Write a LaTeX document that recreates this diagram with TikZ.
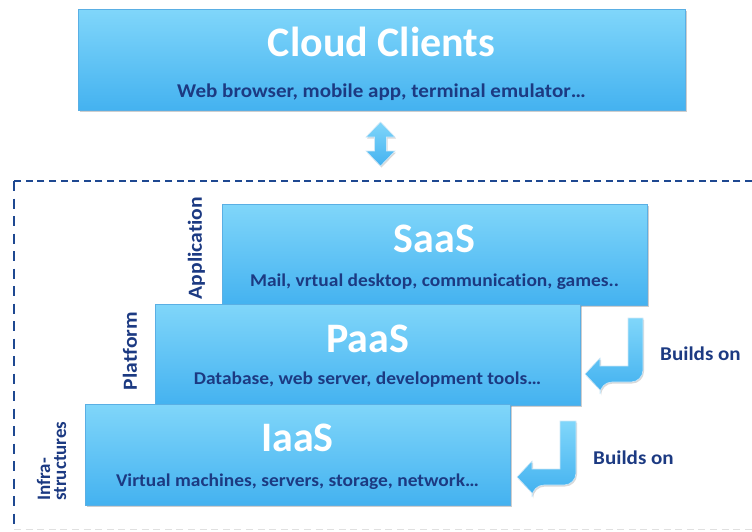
\documentclass[tikz,border=0pt]{standalone}
\usepackage{fontspec}
\setmainfont{Carlito}
\newfontfamily\widefont[FakeStretch=1.08, Ligatures=NoCommon]{Carlito}
\usetikzlibrary{shadows}
\definecolor{boxtop}{RGB}{128,214,250}
\definecolor{boxbot}{RGB}{68,178,240}
\definecolor{boxline}{RGB}{90,175,228}
\definecolor{navy}{RGB}{28,58,130}
\definecolor{dashblue}{RGB}{30,72,145}
\begin{document}
\begin{tikzpicture}[x=1pt,y=-1pt,
  layer/.style={rectangle, draw=boxline, line width=0.8pt,
    top color=boxtop, bottom color=boxbot, inner sep=0pt,
    minimum width=425pt, minimum height=101pt,
    drop shadow={shadow xshift=1.5pt, shadow yshift=-2pt, opacity=0.35, fill=black!55}},
  blockarrow/.style={draw=white!70!boxline, line width=0.6pt,
    top color=boxtop, bottom color=boxbot,
    drop shadow={shadow xshift=1pt, shadow yshift=-1.5pt, opacity=0.3, fill=black!50}},
  titletext/.style={anchor=base, text=white, font=\bfseries\fontsize{42}{48}\selectfont},
  subtext/.style={anchor=base, text=navy, font=\widefont\bfseries\fontsize{18}{22}\selectfont},
  sidetext/.style={text=navy, font=\widefont\bfseries\fontsize{20}{16}\selectfont, rotate=90, inner sep=0pt},
  buildtext/.style={anchor=base west, text=navy, font=\widefont\bfseries\fontsize{19.5}{24}\selectfont, inner sep=0pt},
  frameline/.style={draw=dashblue, line width=2.4pt, dash pattern=on 7pt off 4.6pt}
]
\useasboundingbox (0,0) rectangle (752,531);

% cloud clients
\node[layer, minimum width=607pt] (clients) at (381.5,59.5) {};
\node[titletext] (clientst) at ([yshift=-48pt]clients.north) {Cloud Clients};
\node[subtext, font=\widefont\bfseries\fontsize{19.5}{24}\selectfont] (clientss) at ([yshift=-89pt]clients.north) {Web browser, mobile app, terminal emulator…};

% two-way arrow between clients and the cloud
\path[blockarrow] (380.5,122) -- (395,137) -- (386.5,137) -- (386.5,151) -- (395,151)
  -- (380.5,166) -- (366,151) -- (374.5,151) -- (374.5,137) -- (366,137) -- cycle;

% dashed cloud frame
\draw[frameline] (752,181) -- (14,181);
\draw[frameline, dash pattern=on 10pt off 7.5pt] (14,181) -- (14,531);
\draw[draw=black!12, line width=1.6pt, dash pattern=on 7pt off 4.6pt] (14,529.5) -- (752,529.5);

% service layers
\node[layer] (saas) at (434.5,254.5) {};
\node[titletext] (saast) at ([yshift=-49pt]saas.north) {SaaS};
\node[subtext] (saass) at ([yshift=-83pt]saas.north) {Mail, vrtual desktop, communication, games..};

\node[layer] (paas) at (367.5,354.5) {};
\node[titletext] (paast) at ([yshift=-49pt]paas.north) {PaaS};
\node[subtext] (paass) at ([yshift=-81pt]paas.north) {Database, web server, development tools…};

\node[layer] (iaas) at (297.5,454.5) {};
\node[titletext] (iaast) at ([yshift=-48pt]iaas.north) {IaaS};
\node[subtext] (iaass) at ([yshift=-83pt]iaas.north) {Virtual machines, servers, storage, network…};

% layer names
\node[sidetext] (app) at (196.5,248) {Application};
\node[sidetext] (plat) at (130,351) {Platform};
\node[sidetext, font=\bfseries\fontsize{19}{16}\selectfont, align=left, anchor=west] (infra) at (51.5,501) {Infra-\\structures};

% builds-on arrows
\path[blockarrow] (628,318) -- (643,318) [rounded corners=12pt] -- (643,382) -- (600,382)
  [sharp corners] -- (600,390) -- (585,374) -- (600,358) -- (600,366) -- (628,366) -- cycle;
\node[buildtext] (build1) at (660,360) {Builds on};

\path[blockarrow] (560,421) -- (576,421) [rounded corners=12pt] -- (576,485) -- (532,485)
  [sharp corners] -- (532,493) -- (517,477) -- (532,461) -- (532,469) -- (560,469) -- cycle;
\node[buildtext] (build2) at (593,464) {Builds on};
\end{tikzpicture}
\end{document}
